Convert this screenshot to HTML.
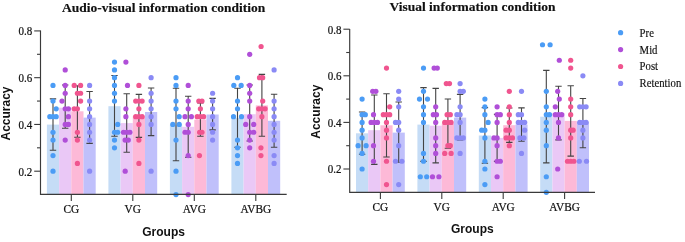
<!DOCTYPE html>
<html><head><meta charset="utf-8"><style>
html,body{margin:0;padding:0;background:#fff;}
svg{display:block;filter:blur(0.35px);}
</style></head><body>
<svg width="685" height="242" viewBox="0 0 685 242">
<rect x="46.90" y="124.60" width="12.2" height="69.70" fill="#c5dcf6"/>
<rect x="59.10" y="107.70" width="12.2" height="86.60" fill="#eac8f6"/>
<rect x="71.30" y="111.30" width="12.2" height="83.00" fill="#fdb9d7"/>
<rect x="83.50" y="117.60" width="12.2" height="76.70" fill="#c0c0fb"/>
<rect x="108.40" y="106.20" width="12.2" height="88.10" fill="#c5dcf6"/>
<rect x="120.60" y="123.10" width="12.2" height="71.20" fill="#eac8f6"/>
<rect x="132.80" y="116.20" width="12.2" height="78.10" fill="#fdb9d7"/>
<rect x="145.00" y="112.00" width="12.2" height="82.30" fill="#c0c0fb"/>
<rect x="169.90" y="124.50" width="12.2" height="69.80" fill="#c5dcf6"/>
<rect x="182.10" y="126.80" width="12.2" height="67.50" fill="#eac8f6"/>
<rect x="194.30" y="119.60" width="12.2" height="74.70" fill="#fdb9d7"/>
<rect x="206.50" y="114.50" width="12.2" height="79.80" fill="#c0c0fb"/>
<rect x="231.40" y="117.80" width="12.2" height="76.50" fill="#c5dcf6"/>
<rect x="243.60" y="114.20" width="12.2" height="80.10" fill="#eac8f6"/>
<rect x="255.80" y="105.40" width="12.2" height="88.90" fill="#fdb9d7"/>
<rect x="268.00" y="120.80" width="12.2" height="73.50" fill="#c0c0fb"/>
<path d="M53.00 98.90V150.20M49.80 98.90H56.20M49.80 150.20H56.20" stroke="#444" stroke-width="1.1" fill="none"/>
<path d="M65.20 85.00V128.30M62.00 85.00H68.40M62.00 128.30H68.40" stroke="#444" stroke-width="1.1" fill="none"/>
<path d="M77.40 85.70V137.30M74.20 85.70H80.60M74.20 137.30H80.60" stroke="#444" stroke-width="1.1" fill="none"/>
<path d="M89.60 91.50V143.40M86.40 91.50H92.80M86.40 143.40H92.80" stroke="#444" stroke-width="1.1" fill="none"/>
<path d="M114.50 75.50V136.20M111.30 75.50H117.70M111.30 136.20H117.70" stroke="#444" stroke-width="1.1" fill="none"/>
<path d="M126.70 93.80V152.30M123.50 93.80H129.90M123.50 152.30H129.90" stroke="#444" stroke-width="1.1" fill="none"/>
<path d="M138.90 94.40V137.40M135.70 94.40H142.10M135.70 137.40H142.10" stroke="#444" stroke-width="1.1" fill="none"/>
<path d="M151.10 88.00V135.60M147.90 88.00H154.30M147.90 135.60H154.30" stroke="#444" stroke-width="1.1" fill="none"/>
<path d="M176.00 88.30V160.70M172.80 88.30H179.20M172.80 160.70H179.20" stroke="#444" stroke-width="1.1" fill="none"/>
<path d="M188.20 96.20V157.20M185.00 96.20H191.40M185.00 157.20H191.40" stroke="#444" stroke-width="1.1" fill="none"/>
<path d="M200.40 102.90V136.30M197.20 102.90H203.60M197.20 136.30H203.60" stroke="#444" stroke-width="1.1" fill="none"/>
<path d="M212.60 98.40V129.90M209.40 98.40H215.80M209.40 129.90H215.80" stroke="#444" stroke-width="1.1" fill="none"/>
<path d="M237.50 88.30V147.30M234.30 88.30H240.70M234.30 147.30H240.70" stroke="#444" stroke-width="1.1" fill="none"/>
<path d="M249.70 85.00V141.00M246.50 85.00H252.90M246.50 141.00H252.90" stroke="#444" stroke-width="1.1" fill="none"/>
<path d="M261.90 74.40V136.30M258.70 74.40H265.10M258.70 136.30H265.10" stroke="#444" stroke-width="1.1" fill="none"/>
<path d="M274.10 94.30V147.30M270.90 94.30H277.30M270.90 147.30H277.30" stroke="#444" stroke-width="1.1" fill="none"/>
<circle cx="53.00" cy="85.47" r="2.6" fill="#4b9cf5"/>
<circle cx="53.00" cy="101.06" r="2.6" fill="#4b9cf5"/>
<circle cx="56.20" cy="108.85" r="2.6" fill="#4b9cf5"/>
<circle cx="49.80" cy="116.65" r="2.6" fill="#4b9cf5"/>
<circle cx="53.00" cy="116.65" r="2.6" fill="#4b9cf5"/>
<circle cx="56.20" cy="116.65" r="2.6" fill="#4b9cf5"/>
<circle cx="53.00" cy="132.23" r="2.6" fill="#4b9cf5"/>
<circle cx="53.00" cy="140.03" r="2.6" fill="#4b9cf5"/>
<circle cx="53.00" cy="155.61" r="2.6" fill="#4b9cf5"/>
<circle cx="53.00" cy="171.20" r="2.6" fill="#4b9cf5"/>
<circle cx="65.20" cy="69.89" r="2.6" fill="#b04fd8"/>
<circle cx="65.20" cy="85.47" r="2.6" fill="#b04fd8"/>
<circle cx="65.20" cy="93.27" r="2.6" fill="#b04fd8"/>
<circle cx="62.00" cy="101.06" r="2.6" fill="#b04fd8"/>
<circle cx="65.20" cy="108.85" r="2.6" fill="#b04fd8"/>
<circle cx="68.40" cy="108.85" r="2.6" fill="#b04fd8"/>
<circle cx="68.40" cy="116.65" r="2.6" fill="#b04fd8"/>
<circle cx="65.20" cy="124.44" r="2.6" fill="#b04fd8"/>
<circle cx="68.40" cy="124.44" r="2.6" fill="#b04fd8"/>
<circle cx="65.20" cy="140.03" r="2.6" fill="#b04fd8"/>
<circle cx="74.20" cy="85.47" r="2.6" fill="#f0558f"/>
<circle cx="80.60" cy="85.47" r="2.6" fill="#f0558f"/>
<circle cx="77.40" cy="93.27" r="2.6" fill="#f0558f"/>
<circle cx="80.60" cy="93.27" r="2.6" fill="#f0558f"/>
<circle cx="80.60" cy="101.06" r="2.6" fill="#f0558f"/>
<circle cx="74.20" cy="108.85" r="2.6" fill="#f0558f"/>
<circle cx="77.40" cy="108.85" r="2.6" fill="#f0558f"/>
<circle cx="77.40" cy="132.23" r="2.6" fill="#f0558f"/>
<circle cx="77.40" cy="140.03" r="2.6" fill="#f0558f"/>
<circle cx="77.40" cy="163.41" r="2.6" fill="#f0558f"/>
<circle cx="89.60" cy="85.47" r="2.6" fill="#8a8af5"/>
<circle cx="89.60" cy="101.06" r="2.6" fill="#8a8af5"/>
<circle cx="89.60" cy="108.85" r="2.6" fill="#8a8af5"/>
<circle cx="89.60" cy="116.65" r="2.6" fill="#8a8af5"/>
<circle cx="89.60" cy="124.44" r="2.6" fill="#8a8af5"/>
<circle cx="89.60" cy="132.23" r="2.6" fill="#8a8af5"/>
<circle cx="89.60" cy="140.03" r="2.6" fill="#8a8af5"/>
<circle cx="89.60" cy="171.20" r="2.6" fill="#8a8af5"/>
<circle cx="114.50" cy="62.09" r="2.6" fill="#4b9cf5"/>
<circle cx="114.50" cy="69.89" r="2.6" fill="#4b9cf5"/>
<circle cx="114.50" cy="77.68" r="2.6" fill="#4b9cf5"/>
<circle cx="114.50" cy="85.47" r="2.6" fill="#4b9cf5"/>
<circle cx="114.50" cy="93.27" r="2.6" fill="#4b9cf5"/>
<circle cx="114.50" cy="101.06" r="2.6" fill="#4b9cf5"/>
<circle cx="117.70" cy="124.44" r="2.6" fill="#4b9cf5"/>
<circle cx="114.50" cy="132.23" r="2.6" fill="#4b9cf5"/>
<circle cx="117.70" cy="132.23" r="2.6" fill="#4b9cf5"/>
<circle cx="114.50" cy="140.03" r="2.6" fill="#4b9cf5"/>
<circle cx="114.50" cy="147.82" r="2.6" fill="#4b9cf5"/>
<circle cx="125.90" cy="62.09" r="2.6" fill="#b04fd8"/>
<circle cx="127.50" cy="85.47" r="2.6" fill="#b04fd8"/>
<circle cx="125.90" cy="108.85" r="2.6" fill="#b04fd8"/>
<circle cx="125.90" cy="116.65" r="2.6" fill="#b04fd8"/>
<circle cx="123.50" cy="132.23" r="2.6" fill="#b04fd8"/>
<circle cx="126.70" cy="132.23" r="2.6" fill="#b04fd8"/>
<circle cx="129.90" cy="132.23" r="2.6" fill="#b04fd8"/>
<circle cx="125.10" cy="140.03" r="2.6" fill="#b04fd8"/>
<circle cx="128.30" cy="140.03" r="2.6" fill="#b04fd8"/>
<circle cx="125.18" cy="171.20" r="2.6" fill="#b04fd8"/>
<circle cx="138.90" cy="85.47" r="2.6" fill="#f0558f"/>
<circle cx="135.70" cy="101.06" r="2.6" fill="#f0558f"/>
<circle cx="138.90" cy="101.06" r="2.6" fill="#f0558f"/>
<circle cx="142.10" cy="101.06" r="2.6" fill="#f0558f"/>
<circle cx="138.90" cy="108.85" r="2.6" fill="#f0558f"/>
<circle cx="135.70" cy="116.65" r="2.6" fill="#f0558f"/>
<circle cx="138.90" cy="116.65" r="2.6" fill="#f0558f"/>
<circle cx="142.10" cy="116.65" r="2.6" fill="#f0558f"/>
<circle cx="138.90" cy="124.44" r="2.6" fill="#f0558f"/>
<circle cx="138.90" cy="140.03" r="2.6" fill="#f0558f"/>
<circle cx="138.90" cy="163.41" r="2.6" fill="#f0558f"/>
<circle cx="151.10" cy="77.68" r="2.6" fill="#8a8af5"/>
<circle cx="151.10" cy="93.27" r="2.6" fill="#8a8af5"/>
<circle cx="151.10" cy="101.06" r="2.6" fill="#8a8af5"/>
<circle cx="151.10" cy="108.85" r="2.6" fill="#8a8af5"/>
<circle cx="151.10" cy="116.65" r="2.6" fill="#8a8af5"/>
<circle cx="151.10" cy="124.44" r="2.6" fill="#8a8af5"/>
<circle cx="151.10" cy="171.20" r="2.6" fill="#8a8af5"/>
<circle cx="176.00" cy="77.68" r="2.6" fill="#4b9cf5"/>
<circle cx="176.00" cy="85.47" r="2.6" fill="#4b9cf5"/>
<circle cx="176.00" cy="101.06" r="2.6" fill="#4b9cf5"/>
<circle cx="176.00" cy="108.85" r="2.6" fill="#4b9cf5"/>
<circle cx="179.20" cy="116.65" r="2.6" fill="#4b9cf5"/>
<circle cx="172.80" cy="124.44" r="2.6" fill="#4b9cf5"/>
<circle cx="179.20" cy="124.44" r="2.6" fill="#4b9cf5"/>
<circle cx="176.00" cy="140.03" r="2.6" fill="#4b9cf5"/>
<circle cx="176.00" cy="171.20" r="2.6" fill="#4b9cf5"/>
<circle cx="176.00" cy="194.58" r="2.6" fill="#4b9cf5"/>
<circle cx="188.20" cy="85.47" r="2.6" fill="#b04fd8"/>
<circle cx="188.20" cy="101.06" r="2.6" fill="#b04fd8"/>
<circle cx="188.20" cy="108.85" r="2.6" fill="#b04fd8"/>
<circle cx="185.00" cy="116.65" r="2.6" fill="#b04fd8"/>
<circle cx="191.40" cy="116.65" r="2.6" fill="#b04fd8"/>
<circle cx="188.20" cy="124.44" r="2.6" fill="#b04fd8"/>
<circle cx="185.00" cy="132.23" r="2.6" fill="#b04fd8"/>
<circle cx="188.20" cy="132.23" r="2.6" fill="#b04fd8"/>
<circle cx="188.20" cy="155.61" r="2.6" fill="#b04fd8"/>
<circle cx="188.20" cy="194.58" r="2.6" fill="#b04fd8"/>
<circle cx="198.80" cy="101.06" r="2.6" fill="#f0558f"/>
<circle cx="202.00" cy="101.06" r="2.6" fill="#f0558f"/>
<circle cx="200.40" cy="108.85" r="2.6" fill="#f0558f"/>
<circle cx="197.20" cy="116.65" r="2.6" fill="#f0558f"/>
<circle cx="200.40" cy="116.65" r="2.6" fill="#f0558f"/>
<circle cx="203.60" cy="116.65" r="2.6" fill="#f0558f"/>
<circle cx="199.60" cy="132.23" r="2.6" fill="#f0558f"/>
<circle cx="202.00" cy="132.23" r="2.6" fill="#f0558f"/>
<circle cx="199.44" cy="155.61" r="2.6" fill="#f0558f"/>
<circle cx="212.60" cy="93.27" r="2.6" fill="#8a8af5"/>
<circle cx="212.60" cy="101.06" r="2.6" fill="#8a8af5"/>
<circle cx="212.60" cy="108.85" r="2.6" fill="#8a8af5"/>
<circle cx="212.60" cy="116.65" r="2.6" fill="#8a8af5"/>
<circle cx="212.60" cy="124.44" r="2.6" fill="#8a8af5"/>
<circle cx="212.60" cy="132.23" r="2.6" fill="#8a8af5"/>
<circle cx="212.60" cy="140.03" r="2.6" fill="#8a8af5"/>
<circle cx="237.50" cy="77.68" r="2.6" fill="#4b9cf5"/>
<circle cx="233.82" cy="85.47" r="2.6" fill="#4b9cf5"/>
<circle cx="241.18" cy="85.47" r="2.6" fill="#4b9cf5"/>
<circle cx="237.50" cy="101.06" r="2.6" fill="#4b9cf5"/>
<circle cx="237.50" cy="108.85" r="2.6" fill="#4b9cf5"/>
<circle cx="233.50" cy="116.65" r="2.6" fill="#4b9cf5"/>
<circle cx="241.50" cy="116.65" r="2.6" fill="#4b9cf5"/>
<circle cx="237.50" cy="140.03" r="2.6" fill="#4b9cf5"/>
<circle cx="237.50" cy="147.82" r="2.6" fill="#4b9cf5"/>
<circle cx="237.50" cy="155.61" r="2.6" fill="#4b9cf5"/>
<circle cx="237.50" cy="163.41" r="2.6" fill="#4b9cf5"/>
<circle cx="249.70" cy="54.30" r="2.6" fill="#b04fd8"/>
<circle cx="249.70" cy="85.47" r="2.6" fill="#b04fd8"/>
<circle cx="249.70" cy="93.27" r="2.6" fill="#b04fd8"/>
<circle cx="249.70" cy="101.06" r="2.6" fill="#b04fd8"/>
<circle cx="249.70" cy="116.65" r="2.6" fill="#b04fd8"/>
<circle cx="245.70" cy="124.44" r="2.6" fill="#b04fd8"/>
<circle cx="253.70" cy="124.44" r="2.6" fill="#b04fd8"/>
<circle cx="249.70" cy="132.23" r="2.6" fill="#b04fd8"/>
<circle cx="253.70" cy="132.23" r="2.6" fill="#b04fd8"/>
<circle cx="249.70" cy="140.03" r="2.6" fill="#b04fd8"/>
<circle cx="249.70" cy="147.82" r="2.6" fill="#b04fd8"/>
<circle cx="261.10" cy="46.51" r="2.6" fill="#f0558f"/>
<circle cx="259.50" cy="77.68" r="2.6" fill="#f0558f"/>
<circle cx="262.70" cy="77.68" r="2.6" fill="#f0558f"/>
<circle cx="262.70" cy="101.06" r="2.6" fill="#f0558f"/>
<circle cx="258.70" cy="108.85" r="2.6" fill="#f0558f"/>
<circle cx="261.90" cy="108.85" r="2.6" fill="#f0558f"/>
<circle cx="265.10" cy="108.85" r="2.6" fill="#f0558f"/>
<circle cx="261.90" cy="116.65" r="2.6" fill="#f0558f"/>
<circle cx="260.94" cy="147.82" r="2.6" fill="#f0558f"/>
<circle cx="260.94" cy="155.61" r="2.6" fill="#f0558f"/>
<circle cx="274.10" cy="69.89" r="2.6" fill="#8a8af5"/>
<circle cx="274.10" cy="101.06" r="2.6" fill="#8a8af5"/>
<circle cx="274.10" cy="108.85" r="2.6" fill="#8a8af5"/>
<circle cx="274.10" cy="116.65" r="2.6" fill="#8a8af5"/>
<circle cx="274.10" cy="124.44" r="2.6" fill="#8a8af5"/>
<circle cx="274.10" cy="132.23" r="2.6" fill="#8a8af5"/>
<circle cx="274.10" cy="140.03" r="2.6" fill="#8a8af5"/>
<circle cx="274.10" cy="155.61" r="2.6" fill="#8a8af5"/>
<circle cx="274.10" cy="163.41" r="2.6" fill="#8a8af5"/>
<path d="M40.5 30.6V194.3H286.7" stroke="#3a3a3a" stroke-width="1.15" fill="none"/>
<path d="M34.20 30.92H40.5" stroke="#3a3a3a" stroke-width="1.1"/>
<text transform="translate(32.20 35.22) scale(1 1.1)" font-family='"Liberation Serif", serif' font-size="11" text-anchor="end" fill="#111" stroke="#111" stroke-width="0.2">0.8</text>
<path d="M37.00 54.30H40.5" stroke="#3a3a3a" stroke-width="1.1"/>
<path d="M34.20 77.68H40.5" stroke="#3a3a3a" stroke-width="1.1"/>
<text transform="translate(32.20 81.98) scale(1 1.1)" font-family='"Liberation Serif", serif' font-size="11" text-anchor="end" fill="#111" stroke="#111" stroke-width="0.2">0.6</text>
<path d="M37.00 101.06H40.5" stroke="#3a3a3a" stroke-width="1.1"/>
<path d="M34.20 124.44H40.5" stroke="#3a3a3a" stroke-width="1.1"/>
<text transform="translate(32.20 128.74) scale(1 1.1)" font-family='"Liberation Serif", serif' font-size="11" text-anchor="end" fill="#111" stroke="#111" stroke-width="0.2">0.4</text>
<path d="M37.00 147.82H40.5" stroke="#3a3a3a" stroke-width="1.1"/>
<path d="M34.20 171.20H40.5" stroke="#3a3a3a" stroke-width="1.1"/>
<text transform="translate(32.20 175.50) scale(1 1.1)" font-family='"Liberation Serif", serif' font-size="11" text-anchor="end" fill="#111" stroke="#111" stroke-width="0.2">0.2</text>
<path d="M71.30 194.3V201.10000000000002" stroke="#3a3a3a" stroke-width="1.1"/>
<text transform="translate(71.30 213.10) scale(1.03 1.12)" font-family='"Liberation Serif", serif' font-size="11" text-anchor="middle" fill="#111" stroke="#111" stroke-width="0.2">CG</text>
<path d="M132.80 194.3V201.10000000000002" stroke="#3a3a3a" stroke-width="1.1"/>
<text transform="translate(132.80 213.10) scale(1.03 1.12)" font-family='"Liberation Serif", serif' font-size="11" text-anchor="middle" fill="#111" stroke="#111" stroke-width="0.2">VG</text>
<path d="M194.30 194.3V201.10000000000002" stroke="#3a3a3a" stroke-width="1.1"/>
<text transform="translate(194.30 213.10) scale(1.03 1.12)" font-family='"Liberation Serif", serif' font-size="11" text-anchor="middle" fill="#111" stroke="#111" stroke-width="0.2">AVG</text>
<path d="M255.80 194.3V201.10000000000002" stroke="#3a3a3a" stroke-width="1.1"/>
<text transform="translate(255.80 213.10) scale(1.03 1.12)" font-family='"Liberation Serif", serif' font-size="11" text-anchor="middle" fill="#111" stroke="#111" stroke-width="0.2">AVBG</text>
<text x="163.60" y="236.20" font-family='"Liberation Sans", sans-serif' font-weight="bold" font-size="12" text-anchor="middle" fill="#111">Groups</text>
<rect x="356.00" y="133.30" width="12.2" height="59.00" fill="#c5dcf6"/>
<rect x="368.20" y="130.20" width="12.2" height="62.10" fill="#eac8f6"/>
<rect x="380.40" y="125.30" width="12.2" height="67.00" fill="#fdb9d7"/>
<rect x="392.60" y="132.60" width="12.2" height="59.70" fill="#c0c0fb"/>
<rect x="417.40" y="124.60" width="12.2" height="67.70" fill="#c5dcf6"/>
<rect x="429.60" y="125.70" width="12.2" height="66.60" fill="#eac8f6"/>
<rect x="441.80" y="123.70" width="12.2" height="68.60" fill="#fdb9d7"/>
<rect x="454.00" y="117.60" width="12.2" height="74.70" fill="#c0c0fb"/>
<rect x="478.80" y="135.50" width="12.2" height="56.80" fill="#c5dcf6"/>
<rect x="491.00" y="137.90" width="12.2" height="54.40" fill="#eac8f6"/>
<rect x="503.20" y="125.20" width="12.2" height="67.10" fill="#fdb9d7"/>
<rect x="515.40" y="124.60" width="12.2" height="67.70" fill="#c0c0fb"/>
<rect x="540.20" y="116.70" width="12.2" height="75.60" fill="#c5dcf6"/>
<rect x="552.40" y="113.10" width="12.2" height="79.20" fill="#eac8f6"/>
<rect x="564.60" y="120.90" width="12.2" height="71.40" fill="#fdb9d7"/>
<rect x="576.80" y="122.00" width="12.2" height="70.30" fill="#c0c0fb"/>
<path d="M362.10 112.00V154.20M358.90 112.00H365.30M358.90 154.20H365.30" stroke="#444" stroke-width="1.1" fill="none"/>
<path d="M374.30 95.00V164.40M371.10 95.00H377.50M371.10 164.40H377.50" stroke="#444" stroke-width="1.1" fill="none"/>
<path d="M386.50 93.80V157.00M383.30 93.80H389.70M383.30 157.00H389.70" stroke="#444" stroke-width="1.1" fill="none"/>
<path d="M398.70 102.00V162.30M395.50 102.00H401.90M395.50 162.30H401.90" stroke="#444" stroke-width="1.1" fill="none"/>
<path d="M423.50 87.60V161.40M420.30 87.60H426.70M420.30 161.40H426.70" stroke="#444" stroke-width="1.1" fill="none"/>
<path d="M435.70 88.40V162.90M432.50 88.40H438.90M432.50 162.90H438.90" stroke="#444" stroke-width="1.1" fill="none"/>
<path d="M447.90 99.00V148.30M444.70 99.00H451.10M444.70 148.30H451.10" stroke="#444" stroke-width="1.1" fill="none"/>
<path d="M460.10 94.40V139.90M456.90 94.40H463.30M456.90 139.90H463.30" stroke="#444" stroke-width="1.1" fill="none"/>
<path d="M484.90 107.60V163.30M481.70 107.60H488.10M481.70 163.30H488.10" stroke="#444" stroke-width="1.1" fill="none"/>
<path d="M497.10 114.40V161.40M493.90 114.40H500.30M493.90 161.40H500.30" stroke="#444" stroke-width="1.1" fill="none"/>
<path d="M509.30 108.00V142.40M506.10 108.00H512.50M506.10 142.40H512.50" stroke="#444" stroke-width="1.1" fill="none"/>
<path d="M521.50 107.90V141.20M518.30 107.90H524.70M518.30 141.20H524.70" stroke="#444" stroke-width="1.1" fill="none"/>
<path d="M546.30 70.40V162.90M543.10 70.40H549.50M543.10 162.90H549.50" stroke="#444" stroke-width="1.1" fill="none"/>
<path d="M558.50 86.30V139.90M555.30 86.30H561.70M555.30 139.90H561.70" stroke="#444" stroke-width="1.1" fill="none"/>
<path d="M570.70 85.70V156.10M567.50 85.70H573.90M567.50 156.10H573.90" stroke="#444" stroke-width="1.1" fill="none"/>
<path d="M582.90 98.50V147.80M579.70 98.50H586.10M579.70 147.80H586.10" stroke="#444" stroke-width="1.1" fill="none"/>
<circle cx="362.10" cy="99.10" r="2.6" fill="#4b9cf5"/>
<circle cx="362.10" cy="114.63" r="2.6" fill="#4b9cf5"/>
<circle cx="365.30" cy="114.63" r="2.6" fill="#4b9cf5"/>
<circle cx="362.10" cy="122.40" r="2.6" fill="#4b9cf5"/>
<circle cx="362.10" cy="130.17" r="2.6" fill="#4b9cf5"/>
<circle cx="362.10" cy="137.93" r="2.6" fill="#4b9cf5"/>
<circle cx="358.10" cy="145.70" r="2.6" fill="#4b9cf5"/>
<circle cx="366.10" cy="145.70" r="2.6" fill="#4b9cf5"/>
<circle cx="362.10" cy="153.47" r="2.6" fill="#4b9cf5"/>
<circle cx="362.10" cy="169.00" r="2.6" fill="#4b9cf5"/>
<circle cx="372.70" cy="91.33" r="2.6" fill="#b04fd8"/>
<circle cx="375.90" cy="91.33" r="2.6" fill="#b04fd8"/>
<circle cx="373.50" cy="114.63" r="2.6" fill="#b04fd8"/>
<circle cx="371.10" cy="122.40" r="2.6" fill="#b04fd8"/>
<circle cx="374.30" cy="122.40" r="2.6" fill="#b04fd8"/>
<circle cx="377.50" cy="122.40" r="2.6" fill="#b04fd8"/>
<circle cx="373.50" cy="145.70" r="2.6" fill="#b04fd8"/>
<circle cx="373.50" cy="161.23" r="2.6" fill="#b04fd8"/>
<circle cx="386.50" cy="68.03" r="2.6" fill="#f0558f"/>
<circle cx="389.70" cy="106.87" r="2.6" fill="#f0558f"/>
<circle cx="383.30" cy="114.63" r="2.6" fill="#f0558f"/>
<circle cx="386.50" cy="114.63" r="2.6" fill="#f0558f"/>
<circle cx="389.70" cy="114.63" r="2.6" fill="#f0558f"/>
<circle cx="386.50" cy="122.40" r="2.6" fill="#f0558f"/>
<circle cx="386.50" cy="130.17" r="2.6" fill="#f0558f"/>
<circle cx="386.50" cy="137.93" r="2.6" fill="#f0558f"/>
<circle cx="386.50" cy="161.23" r="2.6" fill="#f0558f"/>
<circle cx="386.50" cy="184.53" r="2.6" fill="#f0558f"/>
<circle cx="398.70" cy="91.33" r="2.6" fill="#8a8af5"/>
<circle cx="398.70" cy="99.10" r="2.6" fill="#8a8af5"/>
<circle cx="398.70" cy="106.87" r="2.6" fill="#8a8af5"/>
<circle cx="395.50" cy="122.40" r="2.6" fill="#8a8af5"/>
<circle cx="398.70" cy="122.40" r="2.6" fill="#8a8af5"/>
<circle cx="398.70" cy="130.17" r="2.6" fill="#8a8af5"/>
<circle cx="398.70" cy="145.70" r="2.6" fill="#8a8af5"/>
<circle cx="395.50" cy="161.23" r="2.6" fill="#8a8af5"/>
<circle cx="401.90" cy="161.23" r="2.6" fill="#8a8af5"/>
<circle cx="398.70" cy="184.53" r="2.6" fill="#8a8af5"/>
<circle cx="423.50" cy="68.03" r="2.6" fill="#4b9cf5"/>
<circle cx="423.50" cy="91.33" r="2.6" fill="#4b9cf5"/>
<circle cx="419.50" cy="99.10" r="2.6" fill="#4b9cf5"/>
<circle cx="427.50" cy="99.10" r="2.6" fill="#4b9cf5"/>
<circle cx="423.50" cy="106.87" r="2.6" fill="#4b9cf5"/>
<circle cx="423.50" cy="114.63" r="2.6" fill="#4b9cf5"/>
<circle cx="423.50" cy="122.40" r="2.6" fill="#4b9cf5"/>
<circle cx="423.50" cy="153.47" r="2.6" fill="#4b9cf5"/>
<circle cx="423.50" cy="161.23" r="2.6" fill="#4b9cf5"/>
<circle cx="420.30" cy="176.77" r="2.6" fill="#4b9cf5"/>
<circle cx="426.70" cy="176.77" r="2.6" fill="#4b9cf5"/>
<circle cx="434.10" cy="68.03" r="2.6" fill="#b04fd8"/>
<circle cx="437.30" cy="68.03" r="2.6" fill="#b04fd8"/>
<circle cx="435.70" cy="106.87" r="2.6" fill="#b04fd8"/>
<circle cx="433.30" cy="114.63" r="2.6" fill="#b04fd8"/>
<circle cx="436.50" cy="114.63" r="2.6" fill="#b04fd8"/>
<circle cx="435.70" cy="122.40" r="2.6" fill="#b04fd8"/>
<circle cx="435.70" cy="137.93" r="2.6" fill="#b04fd8"/>
<circle cx="435.70" cy="145.70" r="2.6" fill="#b04fd8"/>
<circle cx="435.70" cy="153.47" r="2.6" fill="#b04fd8"/>
<circle cx="432.50" cy="176.77" r="2.6" fill="#b04fd8"/>
<circle cx="438.90" cy="176.77" r="2.6" fill="#b04fd8"/>
<circle cx="446.30" cy="83.57" r="2.6" fill="#f0558f"/>
<circle cx="449.50" cy="83.57" r="2.6" fill="#f0558f"/>
<circle cx="447.10" cy="114.63" r="2.6" fill="#f0558f"/>
<circle cx="450.30" cy="114.63" r="2.6" fill="#f0558f"/>
<circle cx="444.70" cy="122.40" r="2.6" fill="#f0558f"/>
<circle cx="447.90" cy="122.40" r="2.6" fill="#f0558f"/>
<circle cx="451.10" cy="122.40" r="2.6" fill="#f0558f"/>
<circle cx="447.90" cy="145.70" r="2.6" fill="#f0558f"/>
<circle cx="450.30" cy="145.70" r="2.6" fill="#f0558f"/>
<circle cx="444.70" cy="153.47" r="2.6" fill="#f0558f"/>
<circle cx="451.10" cy="153.47" r="2.6" fill="#f0558f"/>
<circle cx="460.10" cy="83.57" r="2.6" fill="#8a8af5"/>
<circle cx="460.10" cy="91.33" r="2.6" fill="#8a8af5"/>
<circle cx="463.30" cy="91.33" r="2.6" fill="#8a8af5"/>
<circle cx="460.10" cy="106.87" r="2.6" fill="#8a8af5"/>
<circle cx="456.90" cy="114.63" r="2.6" fill="#8a8af5"/>
<circle cx="460.10" cy="114.63" r="2.6" fill="#8a8af5"/>
<circle cx="460.10" cy="122.40" r="2.6" fill="#8a8af5"/>
<circle cx="456.90" cy="137.93" r="2.6" fill="#8a8af5"/>
<circle cx="460.10" cy="137.93" r="2.6" fill="#8a8af5"/>
<circle cx="463.30" cy="137.93" r="2.6" fill="#8a8af5"/>
<circle cx="460.10" cy="153.47" r="2.6" fill="#8a8af5"/>
<circle cx="484.90" cy="99.10" r="2.6" fill="#4b9cf5"/>
<circle cx="484.90" cy="106.87" r="2.6" fill="#4b9cf5"/>
<circle cx="484.90" cy="114.63" r="2.6" fill="#4b9cf5"/>
<circle cx="488.10" cy="122.40" r="2.6" fill="#4b9cf5"/>
<circle cx="481.70" cy="130.17" r="2.6" fill="#4b9cf5"/>
<circle cx="484.90" cy="130.17" r="2.6" fill="#4b9cf5"/>
<circle cx="484.90" cy="137.93" r="2.6" fill="#4b9cf5"/>
<circle cx="484.90" cy="161.23" r="2.6" fill="#4b9cf5"/>
<circle cx="484.90" cy="169.00" r="2.6" fill="#4b9cf5"/>
<circle cx="484.90" cy="184.53" r="2.6" fill="#4b9cf5"/>
<circle cx="497.10" cy="106.87" r="2.6" fill="#b04fd8"/>
<circle cx="497.10" cy="114.63" r="2.6" fill="#b04fd8"/>
<circle cx="500.30" cy="114.63" r="2.6" fill="#b04fd8"/>
<circle cx="497.10" cy="122.40" r="2.6" fill="#b04fd8"/>
<circle cx="493.90" cy="137.93" r="2.6" fill="#b04fd8"/>
<circle cx="497.10" cy="137.93" r="2.6" fill="#b04fd8"/>
<circle cx="497.10" cy="145.70" r="2.6" fill="#b04fd8"/>
<circle cx="497.10" cy="161.23" r="2.6" fill="#b04fd8"/>
<circle cx="500.30" cy="161.23" r="2.6" fill="#b04fd8"/>
<circle cx="497.10" cy="176.77" r="2.6" fill="#b04fd8"/>
<circle cx="509.30" cy="91.33" r="2.6" fill="#f0558f"/>
<circle cx="509.30" cy="106.87" r="2.6" fill="#f0558f"/>
<circle cx="509.30" cy="114.63" r="2.6" fill="#f0558f"/>
<circle cx="509.30" cy="122.40" r="2.6" fill="#f0558f"/>
<circle cx="506.10" cy="130.17" r="2.6" fill="#f0558f"/>
<circle cx="509.30" cy="130.17" r="2.6" fill="#f0558f"/>
<circle cx="506.10" cy="137.93" r="2.6" fill="#f0558f"/>
<circle cx="509.30" cy="137.93" r="2.6" fill="#f0558f"/>
<circle cx="512.50" cy="137.93" r="2.6" fill="#f0558f"/>
<circle cx="509.30" cy="145.70" r="2.6" fill="#f0558f"/>
<circle cx="521.50" cy="91.33" r="2.6" fill="#8a8af5"/>
<circle cx="518.30" cy="114.63" r="2.6" fill="#8a8af5"/>
<circle cx="521.50" cy="114.63" r="2.6" fill="#8a8af5"/>
<circle cx="518.30" cy="122.40" r="2.6" fill="#8a8af5"/>
<circle cx="521.50" cy="122.40" r="2.6" fill="#8a8af5"/>
<circle cx="524.70" cy="122.40" r="2.6" fill="#8a8af5"/>
<circle cx="524.70" cy="130.17" r="2.6" fill="#8a8af5"/>
<circle cx="519.90" cy="137.93" r="2.6" fill="#8a8af5"/>
<circle cx="523.90" cy="137.93" r="2.6" fill="#8a8af5"/>
<circle cx="521.50" cy="153.47" r="2.6" fill="#8a8af5"/>
<circle cx="542.50" cy="44.73" r="2.6" fill="#4b9cf5"/>
<circle cx="550.10" cy="44.73" r="2.6" fill="#4b9cf5"/>
<circle cx="546.30" cy="91.33" r="2.6" fill="#4b9cf5"/>
<circle cx="546.30" cy="106.87" r="2.6" fill="#4b9cf5"/>
<circle cx="546.30" cy="114.63" r="2.6" fill="#4b9cf5"/>
<circle cx="549.50" cy="114.63" r="2.6" fill="#4b9cf5"/>
<circle cx="546.30" cy="122.40" r="2.6" fill="#4b9cf5"/>
<circle cx="546.30" cy="130.17" r="2.6" fill="#4b9cf5"/>
<circle cx="546.30" cy="145.70" r="2.6" fill="#4b9cf5"/>
<circle cx="546.30" cy="176.77" r="2.6" fill="#4b9cf5"/>
<circle cx="546.30" cy="192.30" r="2.6" fill="#4b9cf5"/>
<circle cx="559.30" cy="60.27" r="2.6" fill="#b04fd8"/>
<circle cx="557.70" cy="91.33" r="2.6" fill="#b04fd8"/>
<circle cx="559.30" cy="99.10" r="2.6" fill="#b04fd8"/>
<circle cx="555.30" cy="106.87" r="2.6" fill="#b04fd8"/>
<circle cx="555.30" cy="114.63" r="2.6" fill="#b04fd8"/>
<circle cx="558.50" cy="114.63" r="2.6" fill="#b04fd8"/>
<circle cx="561.70" cy="114.63" r="2.6" fill="#b04fd8"/>
<circle cx="558.50" cy="122.40" r="2.6" fill="#b04fd8"/>
<circle cx="558.50" cy="137.93" r="2.6" fill="#b04fd8"/>
<circle cx="557.70" cy="169.00" r="2.6" fill="#b04fd8"/>
<circle cx="570.70" cy="60.27" r="2.6" fill="#f0558f"/>
<circle cx="570.70" cy="68.03" r="2.6" fill="#f0558f"/>
<circle cx="570.70" cy="99.10" r="2.6" fill="#f0558f"/>
<circle cx="570.70" cy="106.87" r="2.6" fill="#f0558f"/>
<circle cx="570.70" cy="114.63" r="2.6" fill="#f0558f"/>
<circle cx="570.70" cy="130.17" r="2.6" fill="#f0558f"/>
<circle cx="573.10" cy="130.17" r="2.6" fill="#f0558f"/>
<circle cx="570.70" cy="137.93" r="2.6" fill="#f0558f"/>
<circle cx="567.50" cy="161.23" r="2.6" fill="#f0558f"/>
<circle cx="570.70" cy="161.23" r="2.6" fill="#f0558f"/>
<circle cx="573.90" cy="161.23" r="2.6" fill="#f0558f"/>
<circle cx="582.90" cy="75.80" r="2.6" fill="#8a8af5"/>
<circle cx="579.70" cy="106.87" r="2.6" fill="#8a8af5"/>
<circle cx="582.90" cy="106.87" r="2.6" fill="#8a8af5"/>
<circle cx="586.10" cy="106.87" r="2.6" fill="#8a8af5"/>
<circle cx="579.70" cy="122.40" r="2.6" fill="#8a8af5"/>
<circle cx="582.90" cy="122.40" r="2.6" fill="#8a8af5"/>
<circle cx="586.10" cy="122.40" r="2.6" fill="#8a8af5"/>
<circle cx="582.90" cy="130.17" r="2.6" fill="#8a8af5"/>
<circle cx="582.90" cy="137.93" r="2.6" fill="#8a8af5"/>
<circle cx="579.30" cy="161.23" r="2.6" fill="#8a8af5"/>
<circle cx="586.50" cy="161.23" r="2.6" fill="#8a8af5"/>
<path d="M349.7 29.0V192.3H595.0" stroke="#3a3a3a" stroke-width="1.15" fill="none"/>
<path d="M343.40 29.20H349.7" stroke="#3a3a3a" stroke-width="1.1"/>
<text transform="translate(341.40 33.50) scale(1 1.1)" font-family='"Liberation Serif", serif' font-size="11" text-anchor="end" fill="#111" stroke="#111" stroke-width="0.2">0.8</text>
<path d="M346.20 52.50H349.7" stroke="#3a3a3a" stroke-width="1.1"/>
<path d="M343.40 75.80H349.7" stroke="#3a3a3a" stroke-width="1.1"/>
<text transform="translate(341.40 80.10) scale(1 1.1)" font-family='"Liberation Serif", serif' font-size="11" text-anchor="end" fill="#111" stroke="#111" stroke-width="0.2">0.6</text>
<path d="M346.20 99.10H349.7" stroke="#3a3a3a" stroke-width="1.1"/>
<path d="M343.40 122.40H349.7" stroke="#3a3a3a" stroke-width="1.1"/>
<text transform="translate(341.40 126.70) scale(1 1.1)" font-family='"Liberation Serif", serif' font-size="11" text-anchor="end" fill="#111" stroke="#111" stroke-width="0.2">0.4</text>
<path d="M346.20 145.70H349.7" stroke="#3a3a3a" stroke-width="1.1"/>
<path d="M343.40 169.00H349.7" stroke="#3a3a3a" stroke-width="1.1"/>
<text transform="translate(341.40 173.30) scale(1 1.1)" font-family='"Liberation Serif", serif' font-size="11" text-anchor="end" fill="#111" stroke="#111" stroke-width="0.2">0.2</text>
<path d="M380.40 192.3V199.10000000000002" stroke="#3a3a3a" stroke-width="1.1"/>
<text transform="translate(380.40 210.70) scale(1.03 1.12)" font-family='"Liberation Serif", serif' font-size="11" text-anchor="middle" fill="#111" stroke="#111" stroke-width="0.2">CG</text>
<path d="M441.80 192.3V199.10000000000002" stroke="#3a3a3a" stroke-width="1.1"/>
<text transform="translate(441.80 210.70) scale(1.03 1.12)" font-family='"Liberation Serif", serif' font-size="11" text-anchor="middle" fill="#111" stroke="#111" stroke-width="0.2">VG</text>
<path d="M503.20 192.3V199.10000000000002" stroke="#3a3a3a" stroke-width="1.1"/>
<text transform="translate(503.20 210.70) scale(1.03 1.12)" font-family='"Liberation Serif", serif' font-size="11" text-anchor="middle" fill="#111" stroke="#111" stroke-width="0.2">AVG</text>
<path d="M564.60 192.3V199.10000000000002" stroke="#3a3a3a" stroke-width="1.1"/>
<text transform="translate(564.60 210.70) scale(1.03 1.12)" font-family='"Liberation Serif", serif' font-size="11" text-anchor="middle" fill="#111" stroke="#111" stroke-width="0.2">AVBG</text>
<text x="472.35" y="233.10" font-family='"Liberation Sans", sans-serif' font-weight="bold" font-size="12" text-anchor="middle" fill="#111">Groups</text>
<text x="163.6" y="12.0" font-family='"Liberation Serif", serif' font-weight="bold" font-size="13.5" text-anchor="middle" fill="#111" stroke="#111" stroke-width="0.15">Audio-visual information condition</text>
<text x="472.5" y="10.6" font-family='"Liberation Serif", serif' font-weight="bold" font-size="13.5" text-anchor="middle" fill="#111" stroke="#111" stroke-width="0.15">Visual information condition</text>
<text transform="translate(10.2 113.5) rotate(-90)" font-family='"Liberation Sans", sans-serif' font-weight="bold" font-size="12" text-anchor="middle" fill="#111">Accuracy</text>
<text transform="translate(319.8 111.7) rotate(-90)" font-family='"Liberation Sans", sans-serif' font-weight="bold" font-size="12" text-anchor="middle" fill="#111">Accuracy</text>
<circle cx="620.6" cy="32.70" r="2.6" fill="#4b9cf5"/>
<text transform="translate(639.6 36.60) scale(0.975 1.1)" font-family='"Liberation Serif", serif' font-size="11" fill="#111" stroke="#111" stroke-width="0.15">Pre</text>
<circle cx="620.6" cy="49.60" r="2.6" fill="#b04fd8"/>
<text transform="translate(639.6 53.50) scale(0.975 1.1)" font-family='"Liberation Serif", serif' font-size="11" fill="#111" stroke="#111" stroke-width="0.15">Mid</text>
<circle cx="620.6" cy="66.50" r="2.6" fill="#f0558f"/>
<text transform="translate(639.6 70.40) scale(0.975 1.1)" font-family='"Liberation Serif", serif' font-size="11" fill="#111" stroke="#111" stroke-width="0.15">Post</text>
<circle cx="620.6" cy="83.40" r="2.6" fill="#8a8af5"/>
<text transform="translate(639.6 87.30) scale(0.975 1.1)" font-family='"Liberation Serif", serif' font-size="11" fill="#111" stroke="#111" stroke-width="0.15">Retention</text>
</svg>
</body></html>
